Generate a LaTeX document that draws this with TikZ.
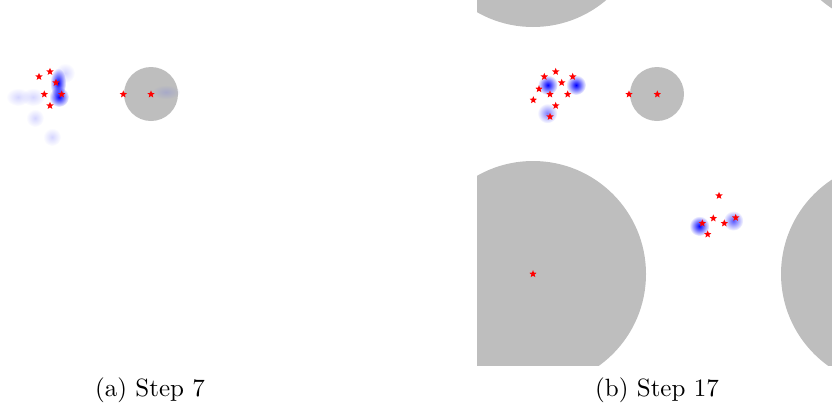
\documentclass[tikz,border=0pt]{standalone}
\usepackage{xcolor}
\usepackage{tikz}
\usetikzlibrary{shapes.geometric,fadings}
\definecolor{obstgray}{RGB}{190,190,190}
\definecolor{trailgray}{RGB}{168,170,200}
\tikzfading[name=blobfade, inner color=transparent!0, outer color=transparent!100]
\tikzset{
  goal/.style={star, star points=5, star point ratio=2.3, fill=red, draw=none, inner sep=0pt, minimum size=3.1pt},
  obstacle/.style={circle, fill=obstgray, draw=none, inner sep=0pt},
  bigobst/.style={obstacle, minimum size=90.4pt},
  smallobst/.style={obstacle, minimum size=21.6pt},
  blob/.style={fill=blue, path fading=blobfade},
  faintblob/.style={fill=blue!16, path fading=blobfade},
  subcap/.style={anchor=base, inner sep=0pt}
}

\begin{document}
\begin{tikzpicture}[x=0.4pt,y=-0.4pt]
  \useasboundingbox (0,0) rectangle (832,407);

  \begin{scope}
    \clip (0,0) rectangle (326,365);
    \node[smallobst] (obsa) at (151,94) {};
    \fill[fill=trailgray, path fading=blobfade] (166,92) ellipse [x radius=14, y radius=7];
    \fill[faintblob] (18,97) ellipse [x radius=12, y radius=9];
    \fill[faintblob] (33,97) ellipse [x radius=12, y radius=9];
    \fill[faintblob] (35,118) circle (9);
    \fill[faintblob] (52,137) circle (9);
    \fill[faintblob] (65,73) circle (10);
    \fill[blob] (58,83) ellipse [x radius=8, y radius=15];
    \fill[blob] (59,97) circle (10);

    \node[goal] (a1) at (50,71.7) {};
    \node[goal] (a2) at (39,76.7) {};
    \node[goal] (a3) at (56,82.7) {};
    \node[goal] (a4) at (44.3,94.3) {};
    \node[goal] (a5) at (61.7,94.3) {};
    \node[goal] (a6) at (50,105.7) {};
    \node[goal] (a7) at (123.3,94.3) {};
    \node[goal] (a8) at (151,94.3) {};
  \end{scope}

  \begin{scope}
    \clip (477,0) rectangle (832,365);
    \node[bigobst] (obsb1) at (533,-86) {};
    \node[bigobst] (obsb2) at (894,-86) {};
    \node[bigobst] (obsb3) at (533,274) {};
    \node[bigobst] (obsb4) at (894,274) {};
    \node[smallobst] (obsb5) at (657,94) {};

    \fill[blob] (547.7,85) circle (10);
    \fill[blob] (576,85) circle (10);
    \fill[fill=blue!50, path fading=blobfade] (547.3,113.3) circle (10);
    \fill[blob] (699.3,226) circle (10);
    \fill[fill=blue!65, path fading=blobfade] (733.3,220.7) circle (10);

    \node[goal] (b1) at (555.7,71.7) {};
    \node[goal] (b2) at (544.3,76.7) {};
    \node[goal] (b3) at (572.7,76.7) {};
    \node[goal] (b4) at (561.7,82.7) {};
    \node[goal] (b5) at (539,89) {};
    \node[goal] (b6) at (550,94.3) {};
    \node[goal] (b7) at (567.7,94.3) {};
    \node[goal] (b8) at (533.3,100) {};
    \node[goal] (b9) at (555.7,105.7) {};
    \node[goal] (b10) at (550,116.7) {};
    \node[goal] (b11) at (629,94.3) {};
    \node[goal] (b12) at (657.3,94.3) {};
    \node[goal] (b13) at (719,195.7) {};
    \node[goal] (b14) at (713.3,218.3) {};
    \node[goal] (b15) at (702.3,223.3) {};
    \node[goal] (b16) at (724.3,223.3) {};
    \node[goal] (b17) at (735.7,217.7) {};
    \node[goal] (b18) at (707.7,234.3) {};
    \node[goal] (b19) at (533,274) {};
  \end{scope}

  \node[subcap] (capa) at (150,396) {(a) Step 7};
  \node[subcap] (capb) at (657,396) {(b) Step 17};
\end{tikzpicture}
\end{document}
